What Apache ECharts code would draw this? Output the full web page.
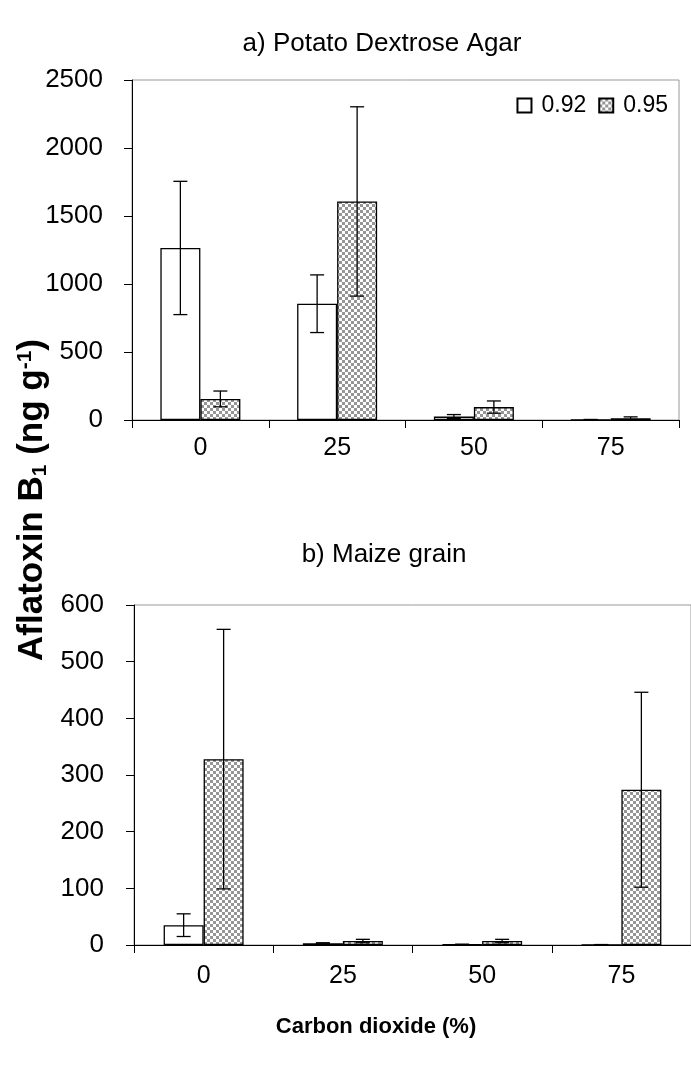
<!DOCTYPE html>
<html>
<head>
<meta charset="utf-8">
<script src="https://cdn.jsdelivr.net/npm/echarts@6/dist/echarts.min.js"></script>
<style>
html,body{margin:0;padding:0;background:#fff;}
#chart{width:691px;height:1069px;}
</style>
</head>
<body>
<div id="chart"></div>
<script>
// ---- data ----
const categories = ['0', '25', '50', '75'];
const seriesNames = ['0.92', '0.95'];
// a) Potato Dextrose Agar
const pdaMean092 = [1265, 855, 25, 2];
const pdaErr092  = [490, 212, 15, 2];
const pdaMean095 = [155, 1607, 95, 13];
const pdaErr095  = [58, 696, 45, 10];
// b) Maize grain
const maizeMean092 = [35, 3, 1, 0.5];
const maizeErr092  = [20, 1, 0.5, 0.3];
const maizeMean095 = [328, 7, 7, 274];
const maizeErr095  = [229, 3, 3, 172];
const pdaTicks = [0, 500, 1000, 1500, 2000, 2500];
const maizeTicks = [0, 100, 200, 300, 400, 500, 600];

// ---- checker pattern ----
const pc = document.createElement('canvas');
pc.width = 6; pc.height = 6;
const cx = pc.getContext('2d');
cx.fillStyle = '#ffffff'; cx.fillRect(0, 0, 6, 6);
cx.fillStyle = '#969696';
cx.fillRect(0, 0, 3, 3); cx.fillRect(3, 3, 3, 3);
const checker = { image: pc, repeat: 'repeat' };

const FONT = 'Liberation Sans, Arial, sans-serif';
const BARW = 40;

function errData(means, errs, sIdx) {
  return means.map((m, i) => [i, m, errs[i], sIdx]);
}
function renderErr(params, api) {
  const i = api.value(0), m = api.value(1), e = api.value(2), s = api.value(3);
  const off = (s === 0 ? -BARW / 2 : BARW / 2);
  const hi = api.coord([i, m + e]);
  const lo = api.coord([i, Math.max(m - e, 0)]);
  const x = hi[0] + off;
  const cap = 7;
  const st = { stroke: '#000', lineWidth: 1.3 };
  return {
    type: 'group',
    children: [
      { type: 'line', shape: { x1: x, y1: hi[1], x2: x, y2: lo[1] }, style: st },
      { type: 'line', shape: { x1: x - cap, y1: hi[1], x2: x + cap, y2: hi[1] }, style: st },
      { type: 'line', shape: { x1: x - cap, y1: lo[1], x2: x + cap, y2: lo[1] }, style: st }
    ]
  };
}

function xAxisDef(gi, margin) {
  return {
    type: 'category', gridIndex: gi, data: categories,
    axisLine: { lineStyle: { color: '#000', width: 1 } },
    axisTick: { show: true, length: 8, alignWithLabel: false, lineStyle: { color: '#000' } },
    axisLabel: { color: '#000', fontSize: 25, fontFamily: FONT, margin: margin },
    splitLine: { show: false }
  };
}
function yAxisDef(gi, ticks, margin) {
  return {
    type: 'value', gridIndex: gi, min: ticks[0], max: ticks[ticks.length - 1],
    interval: ticks[1] - ticks[0],
    axisLine: { show: true, lineStyle: { color: '#000', width: 1 } },
    axisTick: { show: true, length: 8, lineStyle: { color: '#000' } },
    axisLabel: { color: '#000', fontSize: 26, fontFamily: FONT, margin: margin,
      formatter: function (v) { return String(v); } },
    splitLine: { show: false }
  };
}

const whiteStyle = { color: '#ffffff', borderColor: '#000', borderWidth: 1.3 };
const checkStyle = { color: checker, borderColor: '#000', borderWidth: 1.3 };

const chart = echarts.init(document.getElementById('chart'), null, { renderer: 'canvas' });
chart.setOption({
  backgroundColor: '#fff',
  animation: false,
  title: [
    { text: 'a) Potato Dextrose Agar', left: 377, top: 26, textAlign: 'center',
      textStyle: { fontSize: 26, fontWeight: 'normal', color: '#000', fontFamily: FONT } },
    { text: 'b) Maize grain', left: 379, top: 537, textAlign: 'center',
      textStyle: { fontSize: 26, fontWeight: 'normal', color: '#000', fontFamily: FONT } }
  ],
  legend: {
    data: seriesNames, right: 18, top: 89, itemWidth: 14, itemHeight: 14, itemGap: 12,
    icon: 'rect',
    textStyle: { fontSize: 23, color: '#000', fontFamily: FONT, padding: [0, 0, 0, 5] },
    selectedMode: false
  },
  grid: [
    { left: 132, top: 80, width: 547, height: 340, show: true, borderColor: '#999', borderWidth: 1 },
    { left: 134, top: 605, width: 564, height: 340, show: true, borderColor: '#999', borderWidth: 1 }
  ],
  xAxis: [xAxisDef(0, 16), xAxisDef(1, 19)],
  yAxis: [yAxisDef(0, pdaTicks, 29), yAxisDef(1, maizeTicks, 30)],
  graphic: [
    { type: 'text', x: 32, y: 500, rotation: Math.PI / 2, originX: 0, originY: 0,
      style: { text: '{m|Aflatoxin B}{sub|1}{m| (ng g}{sup|-1}{m|)}', align: 'center', verticalAlign: 'middle',
        rich: {
          m: { fontSize: 35, fontWeight: 'bold', fontFamily: FONT, fill: '#000', color: '#000' },
          sub: { fontSize: 21, fontWeight: 'bold', fontFamily: FONT, fill: '#000', color: '#000', padding: [16, 0, 0, 0] },
          sup: { fontSize: 21, fontWeight: 'bold', fontFamily: FONT, fill: '#000', color: '#000', padding: [0, 0, 14, 0] }
        } } },
    { type: 'text', x: 376, y: 1027,
      style: { text: 'Carbon dioxide (%)', align: 'center', verticalAlign: 'middle',
        font: 'bold 22px ' + FONT, fill: '#000' } }
  ],
  series: [
    { name: '0.92', type: 'bar', xAxisIndex: 0, yAxisIndex: 0, data: pdaMean092, barWidth: BARW, barGap: '0%', itemStyle: whiteStyle },
    { name: '0.95', type: 'bar', xAxisIndex: 0, yAxisIndex: 0, data: pdaMean095, barWidth: BARW, barGap: '0%', itemStyle: checkStyle },
    { name: '0.92', type: 'bar', xAxisIndex: 1, yAxisIndex: 1, data: maizeMean092, barWidth: BARW, barGap: '0%', itemStyle: whiteStyle },
    { name: '0.95', type: 'bar', xAxisIndex: 1, yAxisIndex: 1, data: maizeMean095, barWidth: BARW, barGap: '0%', itemStyle: checkStyle },
    { type: 'custom', xAxisIndex: 0, yAxisIndex: 0, renderItem: renderErr, data: errData(pdaMean092, pdaErr092, 0), z: 5, silent: true },
    { type: 'custom', xAxisIndex: 0, yAxisIndex: 0, renderItem: renderErr, data: errData(pdaMean095, pdaErr095, 1), z: 5, silent: true },
    { type: 'custom', xAxisIndex: 1, yAxisIndex: 1, renderItem: renderErr, data: errData(maizeMean092, maizeErr092, 0), z: 5, silent: true },
    { type: 'custom', xAxisIndex: 1, yAxisIndex: 1, renderItem: renderErr, data: errData(maizeMean095, maizeErr095, 1), z: 5, silent: true }
  ]
});
</script>
</body>
</html>
